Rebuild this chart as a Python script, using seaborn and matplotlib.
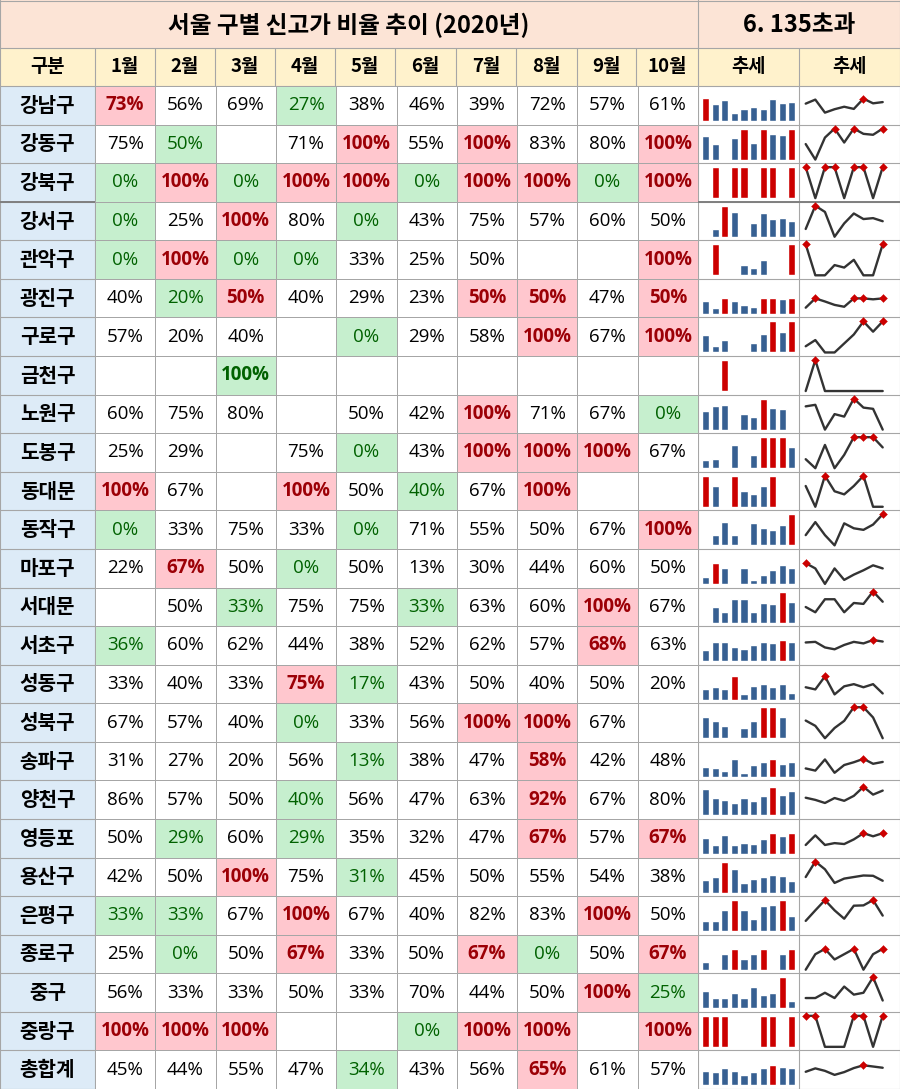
import numpy as np
import pandas as pd
import matplotlib
matplotlib.use("Agg")
import matplotlib.pyplot as plt
import seaborn as sns
from matplotlib.colors import ListedColormap
from matplotlib.patches import Rectangle

sns.set_theme(style="white")
plt.rcParams['font.family'] = ['Noto Sans CJK KR', 'DejaVu Sans']

# ---------------- data ----------------
title = "서울 구별 신고가 비율 추이 (2020년)"
subtitle = "6. 135초과"
first_header = "구분"
trend_header = "추세"
months = ["1월", "2월", "3월", "4월", "5월", "6월", "7월", "8월", "9월", "10월"]
districts = ["강남구", "강동구", "강북구", "강서구", "관악구", "광진구", "구로구", "금천구",
             "노원구", "도봉구", "동대문", "동작구", "마포구", "서대문", "서초구", "성동구",
             "성북구", "송파구", "양천구", "영등포", "용산구", "은평구", "종로구", "중구",
             "중랑구", "총합계"]
N = np.nan
gangnam = [73, 56, 69, 27, 38, 46, 39, 72, 57, 61]
gangdong = [75, 50, N, 71, 100, 55, 100, 83, 80, 100]
gangbuk = [0, 100, 0, 100, 100, 0, 100, 100, 0, 100]
gangseo = [0, 25, 100, 80, 0, 43, 75, 57, 60, 50]
gwanak = [0, 100, 0, 0, 33, 25, 50, N, N, 100]
gwangjin = [40, 20, 50, 40, 29, 23, 50, 50, 47, 50]
guro = [57, 20, 40, N, 0, 29, 58, 100, 67, 100]
geumcheon = [N, N, 100, N, N, N, N, N, N, N]
nowon = [60, 75, 80, N, 50, 42, 100, 71, 67, 0]
dobong = [25, 29, N, 75, 0, 43, 100, 100, 100, 67]
dongdaemun = [100, 67, N, 100, 50, 40, 67, 100, N, N]
dongjak = [0, 33, 75, 33, 0, 71, 55, 50, 67, 100]
mapo = [22, 67, 50, 0, 50, 13, 30, 44, 60, 50]
seodaemun = [N, 50, 33, 75, 75, 33, 63, 60, 100, 67]
seocho = [36, 60, 62, 44, 38, 52, 62, 57, 68, 63]
seongdong = [33, 40, 33, 75, 17, 43, 50, 40, 50, 20]
seongbuk = [67, 57, 40, 0, 33, 56, 100, 100, 67, N]
songpa = [31, 27, 20, 56, 13, 38, 47, 58, 42, 48]
yangcheon = [86, 57, 50, 40, 56, 47, 63, 92, 67, 80]
yeongdeungpo = [50, 29, 60, 29, 35, 32, 47, 67, 57, 67]
yongsan = [42, 50, 100, 75, 31, 45, 50, 55, 54, 38]
eunpyeong = [33, 33, 67, 100, 67, 40, 82, 83, 100, 50]
jongno = [25, 0, 50, 67, 33, 50, 67, 0, 50, 67]
junggu = [56, 33, 33, 50, 33, 70, 44, 50, 100, 25]
jungnang = [100, 100, 100, N, N, 0, 100, 100, N, 100]
total = [45, 44, 55, 47, 34, 43, 56, 65, 61, 57]

rows = [gangnam, gangdong, gangbuk, gangseo, gwanak, gwangjin, guro, geumcheon,
        nowon, dobong, dongdaemun, dongjak, mapo, seodaemun, seocho, seongdong,
        seongbuk, songpa, yangcheon, yeongdeungpo, yongsan, eunpyeong, jongno,
        junggu, jungnang, total]
df = pd.DataFrame(rows, index=districts, columns=months, dtype=float)

# ---------------- styling / layout ----------------
W, H = 900, 1089
xe = [0, 95, 155, 215, 275, 335, 395, 456, 516, 577, 636, 698, 799, 900]
y_title, y_head, y_rows = 0, 48, 86
rh = (H - y_rows) / len(districts)
grid_c = "#A6A6A6"
peach, yellow, blue_bg = "#FCE4D6", "#FFF2CC", "#DDEBF7"
pink_bg, pink_fg = "#FFC7CE", "#9C0006"
green_bg, green_fg = "#C6EFCE", "#006100"
bar_blue, bar_red = "#376092", "#CC0000"
line_c = "#333333"
txt_c = "#000000"
num_font = ['Open Sans', 'DejaVu Sans']

fig = plt.figure(figsize=(W / 100, H / 100), dpi=100)
bg = fig.add_axes([0, 0, 1, 1])
bg.set_xlim(0, W)
bg.set_ylim(H, 0)
bg.axis("off")

def rect(x0, y0, x1, y1, fc):
    bg.add_patch(Rectangle((x0, y0), x1 - x0, y1 - y0, facecolor=fc, edgecolor="none", zorder=0))

rect(0, y_title, W, y_head, peach)
rect(0, y_head, W, y_rows, yellow)
rect(0, y_rows, xe[1], H, blue_bg)
rect(xe[11], y_rows, W, H, "white")

bg.text(xe[11] / 2, (y_title + y_head) / 2 + 1, title, ha="center", va="center",
        fontsize=17, fontweight="bold", color=txt_c)
bg.text((xe[11] + W) / 2, (y_title + y_head) / 2 + 1, subtitle, ha="center", va="center",
        fontsize=17, fontweight="bold", color=txt_c)

heads = [first_header] + months + [trend_header, trend_header]
for k, h in enumerate(heads):
    bg.text((xe[k] + xe[k + 1]) / 2, (y_head + y_rows) / 2, h, ha="center", va="center",
            fontsize=13.5, fontweight="bold", color=txt_c)

for i, d in enumerate(districts):
    bg.text(xe[1] / 2, y_rows + (i + 0.5) * rh, d, ha="center", va="center",
            fontsize=14.5, fontweight="bold", color=txt_c)

# grid lines
for x in xe:
    y0 = y_head if x not in (0, xe[11], W) else 0
    bg.plot([x, x], [y0, H], color=grid_c, lw=0.8, zorder=3, clip_on=False)
for y in [0.5, y_head, y_rows] + [y_rows + i * rh for i in range(1, len(districts) + 1)]:
    bg.plot([0, W], [y, y], color=grid_c, lw=0.8, zorder=3)
bg.plot([0, W], [y_rows + 3 * rh, y_rows + 3 * rh], color="#7F7F7F", lw=1.4, zorder=4)

# ---------------- heatmap of months ----------------
vals = df.values
state = np.zeros_like(vals)
for i in range(vals.shape[0]):
    r = vals[i]
    if np.all(np.isnan(r)):
        continue
    mx, mn = np.nanmax(r), np.nanmin(r)
    state[i][r == mx] = 1
    state[i][r == mn] = 2

hax = fig.add_axes([xe[1] / W, 0, (xe[11] - xe[1]) / W, (H - y_rows) / H])
sns.heatmap(state, cmap=ListedColormap(["white", pink_bg, green_bg]), vmin=-0.5, vmax=2.5,
            cbar=False, linewidths=0.5, linecolor=grid_c, xticklabels=False,
            yticklabels=False, ax=hax)
hax.set_xlabel("")
hax.set_ylabel("")
for i in range(vals.shape[0]):
    r = vals[i]
    mx = np.nanmax(r)
    for j in range(vals.shape[1]):
        v = r[j]
        if np.isnan(v):
            continue
        st = state[i, j]
        color = txt_c
        weight = "normal"
        if v == mx:
            weight = "bold"
            color = pink_fg
        if st == 2:
            color = green_fg
        hax.text(j + 0.5, i + 0.5, f"{int(round(v))}%", ha="center", va="center",
                 fontsize=13.5, color=color, fontweight=weight, family=num_font)

# ---------------- sparklines ----------------
for i in range(vals.shape[0]):
    r = vals[i]
    top = y_rows + i * rh
    b0 = top + 35
    # column sparkline
    bax = fig.add_axes([701 / W, 1 - b0 / H, 95.5 / W, 31 / H])
    heights = np.nan_to_num(r, nan=0.0)
    mx = np.nanmax(r)
    cols = [bar_red if (not np.isnan(v) and v == mx) else bar_blue for v in r]
    sns.barplot(x=list(range(10)), y=heights, hue=list(range(10)), palette=cols,
                legend=False, width=0.74, saturation=1, ax=bax)
    bax.set_xlim(-0.5, 9.5)
    bax.set_ylim(0, 100)
    bax.axis("off")
    # line sparkline (months 2..10, empty cells as zero)
    lv = np.nan_to_num(r[1:], nan=0.0)
    lax = fig.add_axes([805.7 / W, 1 - b0 / H, 77 / W, 31 / H])
    xs = list(range(len(lv)))
    sns.lineplot(x=xs, y=lv, color=line_c, lw=1.7, ax=lax, clip_on=False)
    lmx = lv.max()
    mi = [k for k in xs if lv[k] == lmx]
    sns.scatterplot(x=mi, y=lv[mi], color=bar_red, marker="D", s=16, edgecolor=bar_red,
                    ax=lax, clip_on=False, zorder=5)
    lax.set_xlim(0, 8)
    lax.set_ylim(0, 100)
    lax.axis("off")

fig.savefig("out.png", dpi=100)
